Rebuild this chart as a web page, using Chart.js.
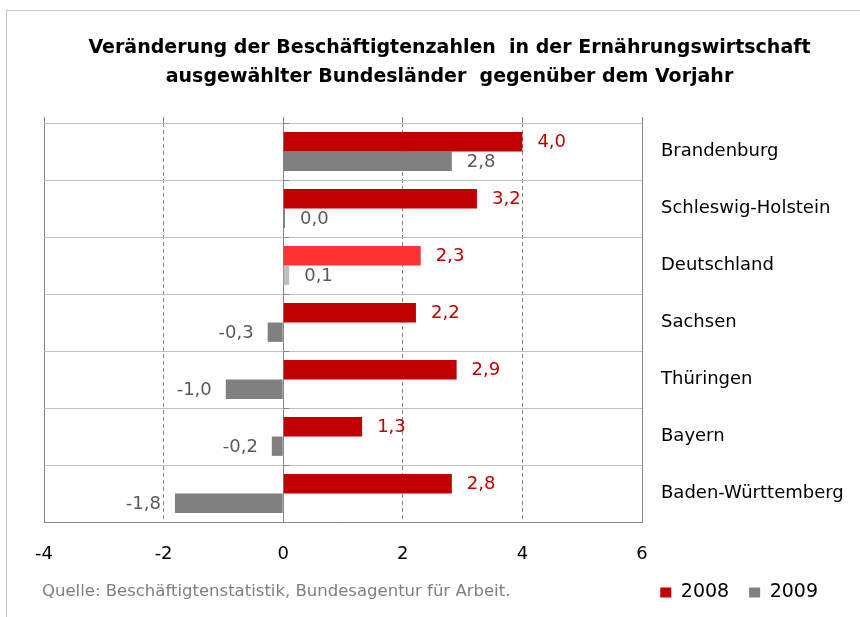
<!DOCTYPE html>
<html lang="de">
<head>
<meta charset="utf-8">
<title>Beschäftigtenzahlen Ernährungswirtschaft</title>
<script src="https://cdn.jsdelivr.net/npm/chart.js@4.4.1/dist/chart.umd.min.js"></script>
<style>
  html, body { margin: 0; padding: 0; background: #fff; }
  body { width: 860px; height: 617px; position: relative; overflow: hidden; font-family: 'DejaVu Sans', sans-serif; }
  #frame { position: absolute; left: 6px; top: 10px; width: 1000px; height: 1000px; border: 1px solid #c3c3c3; }
  #chart { position: absolute; left: 0; top: 0; }
  #quelle { position: absolute; left: 42px; top: 581px; font-size: 16.5px; color: #7f7f7f; white-space: nowrap; }
</style>
</head>
<body>
<div id="frame"></div>
<canvas id="chart" width="860" height="617"></canvas>
<div id="quelle">Quelle: Beschäftigtenstatistik, Bundesagentur für Arbeit.</div>
<script>
const laender = ['Brandenburg', 'Schleswig-Holstein', 'Deutschland', 'Sachsen', 'Thüringen', 'Bayern', 'Baden-Württemberg'];
const werte2008 = [4.0, 3.24, 2.3, 2.22, 2.9, 1.32, 2.82];
const werte2009 = [2.82, 0.03, 0.1, -0.26, -0.96, -0.19, -1.81];
const xTicks = [-4, -2, 0, 2, 4, 6];

const FONT = "'DejaVu Sans', sans-serif";
const ROT = '#C00000', ROT_HELL = '#FF3333';
const GRAU = '#808080', GRAU_HELL = '#BFBFBF';
const LINIE = '#868686';
const deIdx = laender.indexOf('Deutschland');

const fmt = n => n.toFixed(1).replace('.', ',');

// Wertbeschriftungen neben den Balken
const labelPlugin = {
  id: 'werte',
  afterDatasetsDraw(chart) {
    const ctx = chart.ctx;
    ctx.save();
    ctx.font = '18px ' + FONT;
    ctx.textBaseline = 'middle';
    chart.data.datasets.forEach((ds, di) => {
      const meta = chart.getDatasetMeta(di);
      meta.data.forEach((bar, i) => {
        const v = ds.data[i];
        ctx.fillStyle = di === 0 ? ROT : '#595959';
        if (v >= 0) { ctx.textAlign = 'left'; ctx.fillText(fmt(v), bar.x + 15, bar.y + 1); }
        else { ctx.textAlign = 'right'; ctx.fillText(fmt(v), bar.x - 14, bar.y + 1); }
      });
    });
    ctx.restore();
  }
};

// kurze Teilstriche an der Nulllinie
const nullTicks = {
  id: 'nullTicks',
  afterDraw(chart) {
    const x = chart.scales.x, y = chart.scales.y;
    const step = y.getPixelForTick(1) - y.getPixelForTick(0);
    const x0 = x.getPixelForValue(0);
    const ctx = chart.ctx;
    ctx.save();
    ctx.strokeStyle = LINIE;
    ctx.lineWidth = 1;
    for (let k = 0; k <= laender.length; k++) {
      const py = Math.round(y.getPixelForTick(0) - step / 2 + k * step) + 0.5;
      ctx.beginPath(); ctx.moveTo(x0, py); ctx.lineTo(x0 + 6, py); ctx.stroke();
    }
    ctx.restore();
  }
};

// Legende etwas nach links ruecken
const legendeVersatz = {
  id: 'legendeVersatz',
  afterLayout(chart) { if (chart.legend) chart.legend.right -= 17; }
};

new Chart(document.getElementById('chart'), {
  type: 'bar',
  data: {
    labels: laender,
    datasets: [
      {
        label: '2008',
        data: werte2008,
        backgroundColor: c => c.dataIndex === deIdx ? ROT_HELL : ROT,
        categoryPercentage: 0.68,
        barPercentage: 1.0
      },
      {
        label: '2009',
        data: werte2009,
        backgroundColor: c => c.dataIndex === deIdx ? GRAU_HELL : GRAU,
        categoryPercentage: 0.68,
        barPercentage: 1.0
      }
    ]
  },
  plugins: [labelPlugin, nullTicks, legendeVersatz],
  options: {
    indexAxis: 'y',
    responsive: false,
    animation: false,
    devicePixelRatio: 1,
    layout: { padding: { left: 44, right: 5, top: 0, bottom: 5 } },
    plugins: {
      title: {
        display: true,
        text: ['Veränderung der Beschäftigtenzahlen  in der Ernährungswirtschaft', 'ausgewählter Bundesländer  gegenüber dem Vorjahr'],
        color: '#000',
        font: { family: FONT, size: 19, weight: 'bold', lineHeight: 1.5 },
        padding: { top: 34, bottom: 26 }
      },
      legend: {
        position: 'bottom',
        align: 'end',
        labels: {
          color: '#000',
          font: { family: FONT, size: 19 },
          boxWidth: 11,
          boxHeight: 10,
          padding: 20
        }
      },
      tooltip: { enabled: false }
    },
    scales: {
      x: {
        type: 'linear',
        position: 'bottom',
        min: -4, max: 6,
        afterBuildTicks: s => { s.ticks = xTicks.map(v => ({ value: v })); },
        afterFit: s => { s.height = 41; },
        ticks: { color: '#000', font: { family: FONT, size: 18 }, padding: 22 },
        grid: { color: LINIE, lineWidth: 1, drawTicks: false },
        border: {
          display: true, color: LINIE, width: 1,
          dash: c => (c.tick && [-2, 2, 4].includes(c.tick.value)) ? [4, 3] : []
        }
      },
      x2: {
        type: 'linear',
        position: 'top',
        min: -4, max: 6,
        afterBuildTicks: s => { s.ticks = xTicks.map(v => ({ value: v })); },
        ticks: { display: false },
        grid: { drawOnChartArea: false, color: LINIE, tickLength: 6 },
        border: { display: false }
      },
      y: {
        position: 'right',
        afterFit: s => { s.width = 213; },
        ticks: { color: '#000', font: { family: FONT, size: 18 }, padding: 19 },
        grid: { offset: true, color: '#C0C0C0', drawTicks: false },
        border: { display: true, color: LINIE, width: 1 }
      }
    }
  }
});
</script>
</body>
</html>
